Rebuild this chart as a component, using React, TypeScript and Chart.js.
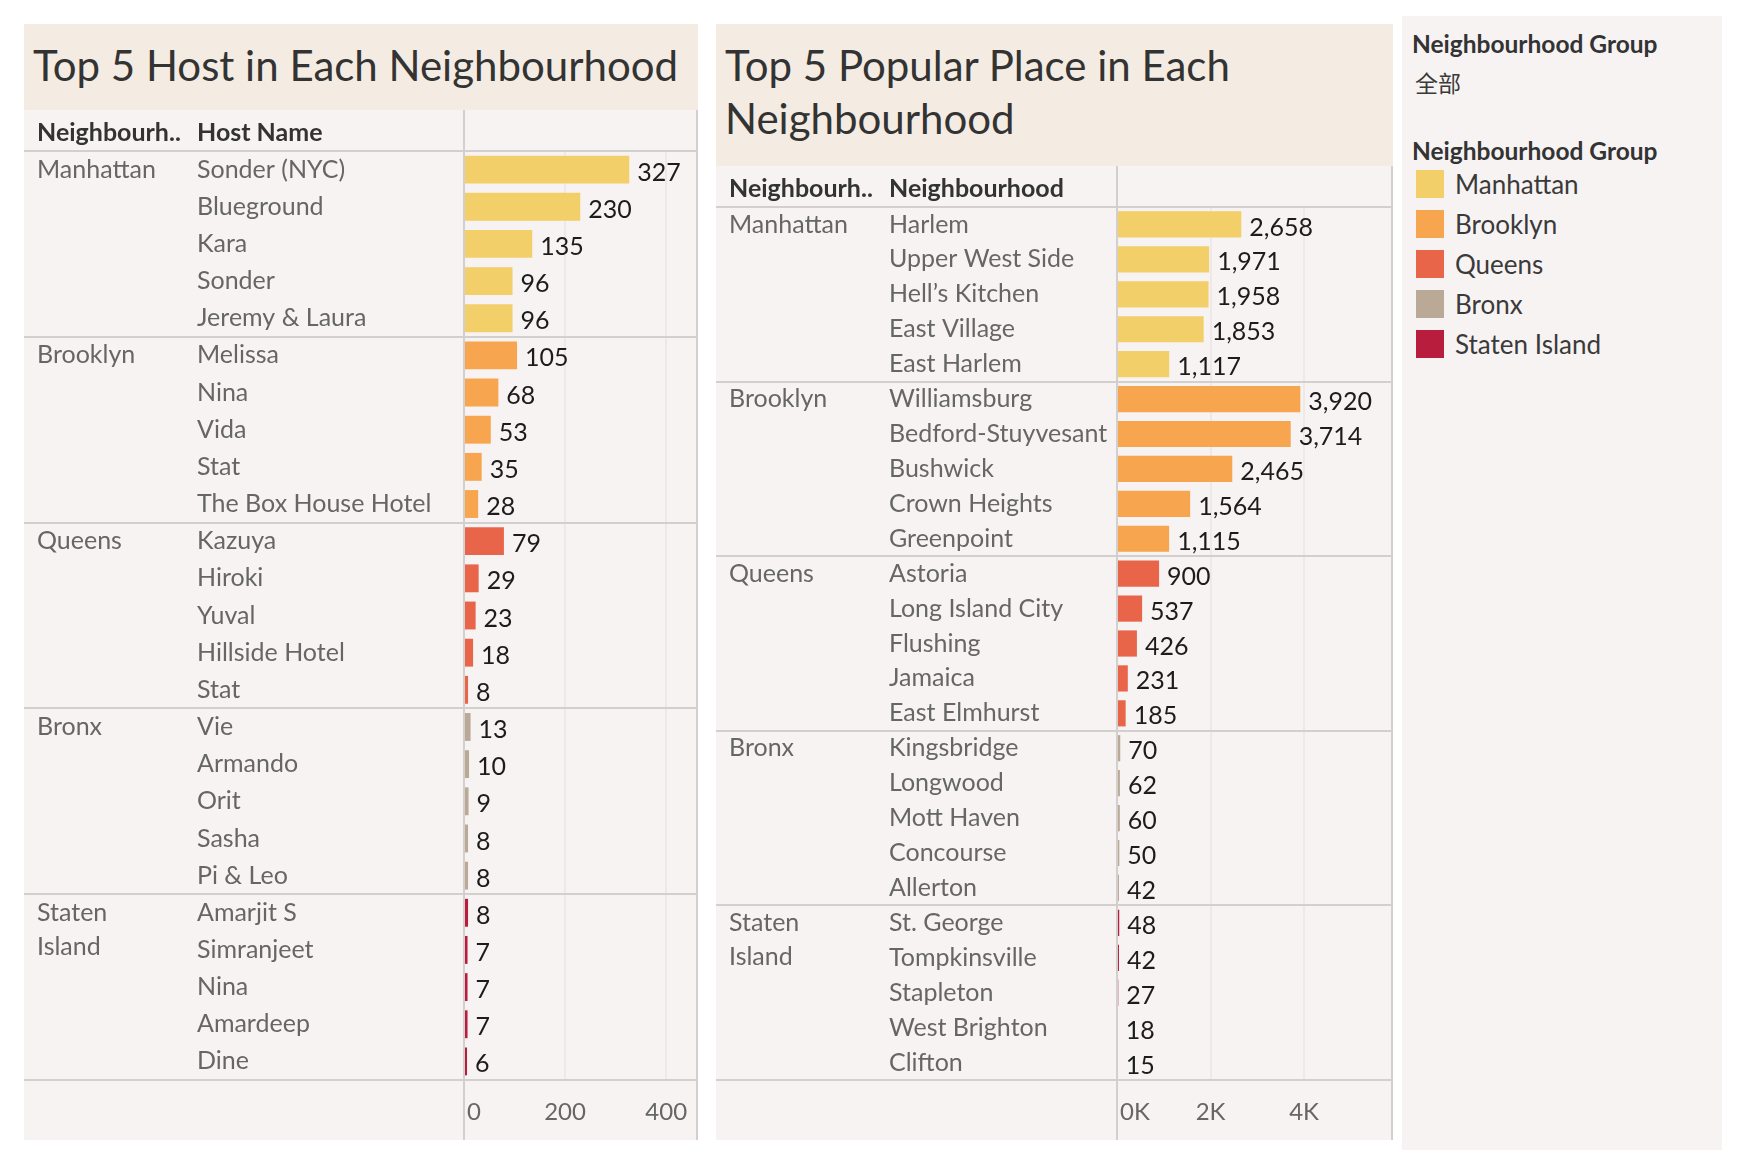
import React, { useEffect, useRef } from 'react'
import { Chart, registerables } from 'chart.js'

Chart.register(...registerables)

const FONT = 'Lato, "Noto Sans", sans-serif'

const groups = ['Manhattan', 'Brooklyn', 'Queens', 'Bronx', 'Staten Island']
const groupColors = ['#f2cf68', '#f7a54e', '#e8654a', '#b9a995', '#b81d3e']
const rowsPerGroup = 5

const hostNames = [
	'Sonder (NYC)', 'Blueground', 'Kara', 'Sonder', 'Jeremy & Laura',
	'Melissa', 'Nina', 'Vida', 'Stat', 'The Box House Hotel',
	'Kazuya', 'Hiroki', 'Yuval', 'Hillside Hotel', 'Stat',
	'Vie', 'Armando', 'Orit', 'Sasha', 'Pi & Leo',
	'Amarjit S', 'Simranjeet', 'Nina', 'Amardeep', 'Dine',
]
const hostListings = [
	327, 230, 135, 96, 96,
	105, 68, 53, 35, 28,
	79, 29, 23, 18, 8,
	13, 10, 9, 8, 8,
	8, 7, 7, 7, 6,
]
const hostTicks = [0, 200, 400]

const placeNames = [
	'Harlem', 'Upper West Side', 'Hell\u2019s Kitchen', 'East Village', 'East Harlem',
	'Williamsburg', 'Bedford-Stuyvesant', 'Bushwick', 'Crown Heights', 'Greenpoint',
	'Astoria', 'Long Island City', 'Flushing', 'Jamaica', 'East Elmhurst',
	'Kingsbridge', 'Longwood', 'Mott Haven', 'Concourse', 'Allerton',
	'St. George', 'Tompkinsville', 'Stapleton', 'West Brighton', 'Clifton',
]
const placeListings = [
	2658, 1971, 1958, 1853, 1117,
	3920, 3714, 2465, 1564, 1115,
	900, 537, 426, 231, 185,
	70, 62, 60, 50, 42,
	48, 42, 27, 18, 15,
]
const placeTicks = [0, 2000, 4000]

const rowColor = (i: number) => groupColors[Math.floor(i / rowsPerGroup)]

interface TableChartProps {
	names: string[]
	values: number[]
	columns: [string, string]
	ticks: number[]
	max: number
	tickLabel: (v: number) => string
	valueLabel: (v: number) => string
	width: number
	height: number
	headerH: number
	axisLeft: number
	axisBottom: number
}

const GROUP_X = 13
const NAME_X = 173

const tableDecor = {
	id: 'tableDecor',
	afterDraw(chart: any, _args: any, opts: any) {
		const { ctx, chartArea, scales } = chart
		const xs = scales.x
		const ys = scales.y
		const W = chart.width
		const H = chart.height
		ctx.save()

		// separators
		ctx.strokeStyle = '#d3cfcf'
		ctx.lineWidth = 2
		const lines = [chartArea.top]
		for (let g = 1; g <= groups.length; g++) {
			lines.push(Math.round(ys.getPixelForValue(g * rowsPerGroup - 0.5)))
		}
		lines.forEach((ly) => {
			ctx.beginPath()
			ctx.moveTo(0, ly)
			ctx.lineTo(W, ly)
			ctx.stroke()
		})
		;[chartArea.left, W - 1].forEach((lx) => {
			ctx.beginPath()
			ctx.moveTo(lx, 0)
			ctx.lineTo(lx, H)
			ctx.stroke()
		})

		// column headers
		ctx.textBaseline = 'middle'
		ctx.textAlign = 'left'
		ctx.fillStyle = '#333333'
		ctx.font = `bold 25px ${FONT}`
		const hy = chartArea.top / 2 + 2
		ctx.fillText(opts.columns[0], GROUP_X, hy)
		ctx.fillText(opts.columns[1], NAME_X, hy)

		// group labels
		ctx.font = `25px ${FONT}`
		ctx.fillStyle = '#666666'
		groups.forEach((g, gi) => {
			const y0 = ys.getPixelForValue(gi * rowsPerGroup)
			const parts = ctx.measureText(g).width > 130 ? g.split(' ') : [g]
			parts.forEach((p, j) => ctx.fillText(p, GROUP_X, y0 + j * 34))
		})

		// bar value labels
		ctx.fillStyle = '#1c1c1c'
		opts.values.forEach((v: number, i: number) => {
			ctx.fillText(opts.valueLabel(v), xs.getPixelForValue(v) + 8, ys.getPixelForValue(i) + 3)
		})

		// axis labels
		ctx.font = `24px ${FONT}`
		ctx.fillStyle = '#666666'
		const ty = chartArea.bottom + 32
		opts.ticks.forEach((t: number, i: number) => {
			const px = xs.getPixelForValue(t)
			ctx.textAlign = i === 0 ? 'left' : 'center'
			ctx.fillText(opts.tickLabel(t), i === 0 ? px + 3 : px, ty)
		})
		ctx.restore()
	},
}

const TableChart: React.FC<TableChartProps> = (p) => {
	const chartRef = useRef<HTMLCanvasElement>(null)

	useEffect(() => {
		if (!chartRef.current) return
		const context = chartRef.current.getContext('2d')
		if (!context) return
		const chart = new Chart(context, {
			type: 'bar',
			data: {
				labels: p.names,
				datasets: [
					{
						data: p.values,
						backgroundColor: p.values.map((_, i) => rowColor(i)),
						borderWidth: 0,
						barPercentage: 0.75,
						categoryPercentage: 1,
					},
				],
			},
			options: {
				indexAxis: 'y',
				responsive: false,
				animation: false,
				events: [],
				layout: {
					padding: { left: NAME_X, top: p.headerH, right: 1, bottom: 0 },
				},
				plugins: {
					legend: { display: false },
					tooltip: { enabled: false },
					tableDecor: {
						columns: p.columns,
						values: p.values,
						ticks: p.ticks,
						tickLabel: p.tickLabel,
						valueLabel: p.valueLabel,
					},
				} as any,
				scales: {
					x: {
						min: 0,
						max: p.max,
						grid: {
							color: (c: any) => (c.tick && c.tick.value === 0 ? 'rgba(0,0,0,0)' : '#eee8e8'),
							lineWidth: 2,
							drawTicks: false,
						},
						border: { display: false },
						ticks: { display: false },
						afterBuildTicks: (s: any) => {
							s.ticks = p.ticks.map((v) => ({ value: v }))
						},
						afterFit: (s: any) => {
							s.height = p.height - p.axisBottom
						},
					},
					y: {
						grid: { display: false },
						border: { display: false },
						ticks: {
							autoSkip: false,
							crossAlign: 'far',
							color: '#666666',
							font: { family: FONT, size: 25 },
						},
						afterFit: (s: any) => {
							s.width = p.axisLeft - NAME_X
						},
					},
				},
			},
			plugins: [tableDecor],
		})
		return () => {
			chart.destroy()
		}
	}, [p])

	return <canvas ref={chartRef} width={p.width} height={p.height} style={{ display: 'block' }} />
}

const titleStyle: React.CSSProperties = {
	fontFamily: FONT,
	fontSize: 42,
	color: '#333333',
	background: '#f4ece2',
	boxSizing: 'border-box',
	paddingLeft: 9,
	lineHeight: '53px',
}

const hostProps: TableChartProps = {
	names: hostNames,
	values: hostListings,
	columns: ['Neighbourh..', 'Host Name'],
	ticks: hostTicks,
	max: 461,
	tickLabel: (v) => String(v),
	valueLabel: (v) => String(v),
	width: 674,
	height: 1030,
	headerH: 41,
	axisLeft: 440,
	axisBottom: 970,
}

const placeProps: TableChartProps = {
	names: placeNames,
	values: placeListings,
	columns: ['Neighbourh..', 'Neighbourhood'],
	ticks: placeTicks,
	max: 5880,
	tickLabel: (v) => `${v / 1000}K`,
	valueLabel: (v) => v.toLocaleString('en-US'),
	width: 677,
	height: 974,
	headerH: 41,
	axisLeft: 401,
	axisBottom: 914,
}

export default function App() {
	return (
		<div style={{ position: 'absolute', left: 0, top: 0, width: 1738, height: 1166, background: '#ffffff' }}>
			<div style={{ position: 'absolute', left: 24, top: 24, width: 674, height: 1116, background: '#f8f3f3' }}>
				<div style={{ ...titleStyle, height: 86, paddingTop: 15 }}>Top 5 Host in Each Neighbourhood</div>
				<TableChart {...hostProps} />
			</div>
			<div style={{ position: 'absolute', left: 716, top: 24, width: 677, height: 1116, background: '#f8f3f3' }}>
				<div style={{ ...titleStyle, height: 142, paddingTop: 15 }}>
					Top 5 Popular Place in Each
					<br />
					Neighbourhood
				</div>
				<TableChart {...placeProps} />
			</div>
			<div
				style={{
					position: 'absolute',
					left: 1402,
					top: 16,
					width: 320,
					height: 1134,
					background: '#f8f3f3',
					fontFamily: FONT,
					fontSize: 26,
					color: '#3a3a3a',
				}}
			>
				<div style={{ position: 'absolute', left: 10, top: 13, fontWeight: 'bold', fontSize: 24.5, color: '#333333' }}>Neighbourhood Group</div>
				<div style={{ position: 'absolute', left: 13, top: 49, fontFamily: '"Noto Sans CJK SC", sans-serif', fontSize: 23 }}>全部</div>
				<div style={{ position: 'absolute', left: 10, top: 120, fontWeight: 'bold', fontSize: 24.5, color: '#333333' }}>Neighbourhood Group</div>
				{groups.map((g, i) => (
					<div key={g} style={{ position: 'absolute', left: 14, top: 154 + i * 40, height: 28, display: 'flex', alignItems: 'center' }}>
						<span style={{ width: 28, height: 28, background: groupColors[i], display: 'inline-block' }} />
						<span style={{ marginLeft: 11 }}>{g}</span>
					</div>
				))}
			</div>
		</div>
	)
}
